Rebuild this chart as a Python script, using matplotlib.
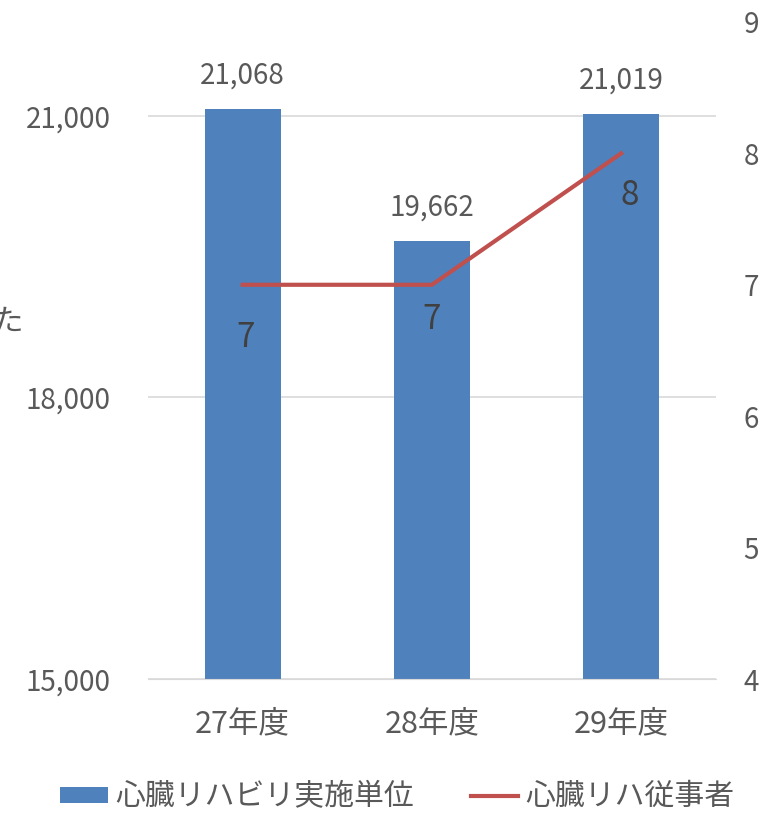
import matplotlib
matplotlib.use('Agg')
import matplotlib.pyplot as plt
from matplotlib.ticker import FuncFormatter

plt.rcParams['font.family'] = ['Noto Sans CJK JP', 'DejaVu Sans']

# data
categories = ['27年度', '28年度', '29年度']
units = [21068, 19662, 21019]
staff = [7, 7, 8]
# where the staff labels sit relative to the line (points)
staff_label_dx = [2, 0, 6]
staff_label_dy = [-38, -25, -30]

text_col = '#595959'
bar_col = '#4F81BD'
line_col = '#C0504D'

fig = plt.figure(figsize=(7.73, 8.13), dpi=100)
ax = fig.add_axes([0.1915, 0.1648, 0.7345, 0.8082])
ax2 = ax.twinx()

x = range(len(categories))
bars = ax.bar(x, units, width=0.4, color=bar_col, zorder=2)
ax.set_ylim(15000, 22000)
ax.set_yticks([15000, 18000, 21000])
ax.yaxis.set_major_formatter(FuncFormatter(lambda v, p: f'{int(v):,}'))
ax.set_xlim(-0.5, len(categories) - 0.5)
ax.set_xticks(list(x))
ax.set_xticklabels(categories)
ax.grid(axis='y', color='#D9D9D9', linewidth=1.2, zorder=0)
ax.set_axisbelow(True)

for i, v in enumerate(units):
    ax.annotate(f'{v:,}', (i, v), xytext=(0, 24), textcoords='offset points',
                ha='center', va='center', fontsize=20, color=text_col)

line, = ax2.plot(list(x), staff, color=line_col, linewidth=3, zorder=3)
ax2.set_ylim(4, 9)
ax2.set_yticks(range(4, 10))
for i, v in enumerate(staff):
    ax2.annotate(str(v), (i, v), xytext=(staff_label_dx[i], staff_label_dy[i]),
                 textcoords='offset points', ha='center', va='center',
                 fontsize=24, color='#404040')

for a in (ax, ax2):
    for s in a.spines.values():
        s.set_visible(False)
    a.tick_params(length=0, labelsize=20, colors=text_col)
ax.spines['bottom'].set_visible(True)
ax.spines['bottom'].set_color('#D9D9D9')
ax.tick_params(axis='x', pad=21, labelsize=22)
ax.tick_params(axis='y', pad=27)
ax2.tick_params(axis='y', pad=20)

fig.legend([bars, line], ['心臓リハビリ実施単位', '心臓リハ従事者'], loc='center',
           bbox_to_anchor=(0.514, 0.02), ncol=2, frameon=False, fontsize=21.5,
           labelcolor=text_col, handlelength=1.6, handleheight=0.45,
           handletextpad=0.25, columnspacing=1.9)

fig.text(23 / 773, 1 - 322 / 813, 'た', fontsize=22, color=text_col, ha='right', va='center')

fig.savefig('out.png', dpi=100)
